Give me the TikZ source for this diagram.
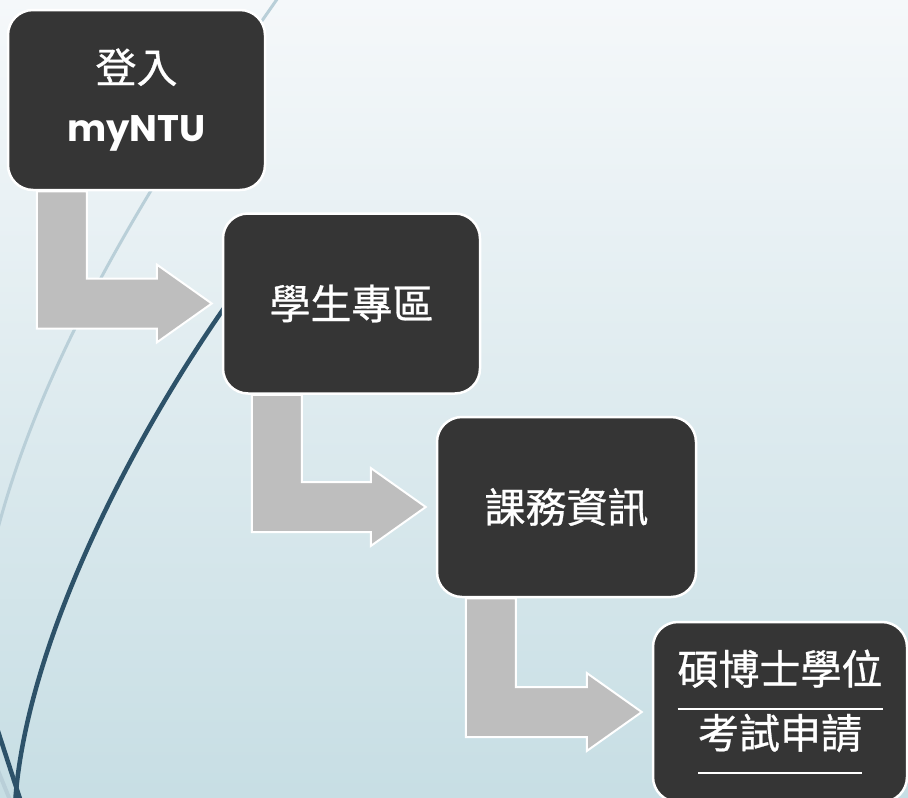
\documentclass[tikz,border=0pt]{standalone}
\usepackage{fontspec}
\newfontfamily\cjkfont{Noto Sans CJK TC}[FakeBold=0.7]
\newfontfamily\gothfont{Poppins}
\usetikzlibrary{calc}
\definecolor{bgtop}{HTML}{F5F8FA}
\definecolor{bgbottom}{HTML}{C7DEE4}
\definecolor{boxgray}{HTML}{353535}
\definecolor{arrowgray}{HTML}{BEBEBE}
\definecolor{wispdark}{HTML}{2D5269}
\definecolor{wisplight}{HTML}{B9CFD8}
% bent arrow from the foot of one box to the side of the next
\newcommand{\stepto}[2]{%
  \filldraw[bentarrow] let \p1=(#1.south west), \p2=(#2.west) in
    (\x1+30pt,\y1) -- (\x1+80pt,\y1) -- (\x1+80pt,\y2+25pt) -- (\x2-65pt,\y2+25pt)
    -- (\x2-65pt,\y2+39pt) -- (\x2-10pt,\y2) -- (\x2-65pt,\y2-39pt)
    -- (\x2-65pt,\y2-25pt) -- (\x1+30pt,\y2-25pt) -- cycle;}
\newcommand{\ulined}[1]{\setbox0=\hbox{#1}\copy0\llap{\rule[-26pt]{\wd0}{2pt}}}
\begin{document}
\begin{tikzpicture}[x=1pt,y=-1pt,
    stepbox/.style={draw=white,line width=2.5pt,fill=boxgray,rounded corners=25pt,
      minimum width=257pt,minimum height=180pt,inner sep=0pt,text=white,align=center,
      font=\cjkfont\fontsize{41}{59}\selectfont},
    bentarrow/.style={draw=white,line width=2pt,fill=arrowgray,line join=miter},
    wispdark/.style={draw=wispdark,line width=4.5pt},
    wisplight/.style={draw=wisplight,line width=3pt}]
    \fill[top color=bgtop,bottom color=bgbottom] (0,0) rectangle (908,798);
    \useasboundingbox (0,0) rectangle (908,798);
    % background wisps
    \draw[wisplight] (280,-5) .. controls (150,180) and (40,360) .. (-5,540);
    \draw[wisplight,line width=4pt] (-3,768) -- (12,805);
    \draw[wispdark] (250,272) .. controls (140,420) and (25,640) .. (15,805);
    \draw[wispdark] (-5,722) -- (22,805);
    % steps
    \node[stepbox] (login) at (136.5,100) {登入\\{\gothfont\bfseries\fontsize{37}{59}\selectfont myNTU}};
    \node[stepbox] (student) at (351.5,303.5) {學生專區};
    \node[stepbox,minimum width=259pt] (course) at (566.5,507) {課務資訊};
    \node[stepbox,minimum width=254pt,font=\cjkfont\fontsize{41}{64}\selectfont] (exam) at (780,712)
      {\ulined{碩博士學位}\\\ulined{考試申請}};
    \stepto{login}{student}
    \stepto{student}{course}
    \stepto{course}{exam}
\end{tikzpicture}
\end{document}
